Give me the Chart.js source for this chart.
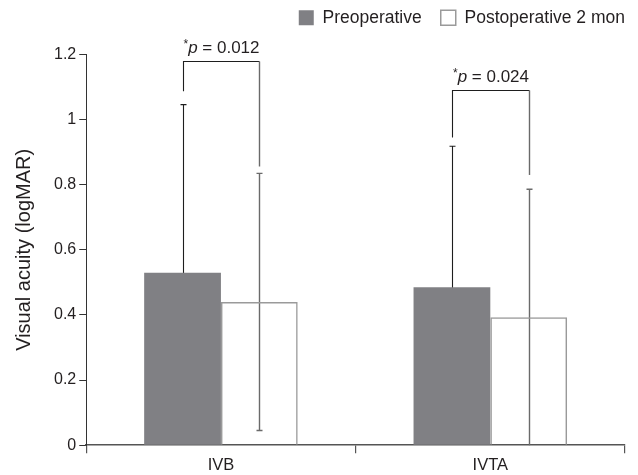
<!DOCTYPE html>
<html>
<head>
<meta charset="utf-8">
<script src="https://cdn.jsdelivr.net/npm/chart.js@4"></script>
<style>
  html, body { margin: 0; padding: 0; background: #fff; }
  #wrap { width: 638px; height: 475px; }
</style>
</head>
<body>
<div id="wrap"><canvas id="c" width="638" height="475"></canvas></div>
<script>
// ---- data ----
const categories = ['IVB', 'IVTA'];
const seriesNames = ['Preoperative', 'Postoperative 2 mon'];
const preopMean = [0.53, 0.485];
const postopMean = [0.44, 0.393];
const preopSD = [0.516, 0.433];
const postopSD = [0.395, 0.393];
// significance brackets (values on y scale)
const bracketTop = [1.18, 1.09];
const bracketLeftEnd = [1.087, 0.945];
const bracketRightEnd = [0.856, 0.83];
const pValues = ['0.012', '0.024'];
const yTicks = [0, 0.2, 0.4, 0.6, 0.8, 1, 1.2];

const FONT = '"Liberation Sans", Arial, Helvetica, sans-serif';
const TEXT = '#231f20';

const legendShift = {
  id: 'legendShift',
  afterLayout(chart) {
    const l = chart.legend;
    if (!l) return;
    l.left += 19; l.right += 19;
    l.top -= 18; l.bottom -= 18;
  }
};

const errorBars = {
  id: 'errorBars',
  beforeDatasetsDraw(chart) {
    const ctx = chart.ctx;
    const y = chart.scales.y;
    const sets = [[preopMean, preopSD, '#1e1e1e', 1.1], [postopMean, postopSD, '#6a6a6a', 1.4]];
    sets.forEach(([means, sds, color, lw], di) => {
      const meta = chart.getDatasetMeta(di);
      meta.data.forEach((bar, i) => {
        const x = Math.round(bar.x) + 0.5;
        const hi = y.getPixelForValue(means[i] + sds[i]);
        const loV = Math.max(0, means[i] - sds[i]);
        const lo = y.getPixelForValue(loV);
        ctx.save();
        ctx.strokeStyle = color;
        ctx.lineWidth = lw;
        ctx.beginPath();
        ctx.moveTo(x, lo); ctx.lineTo(x, hi);
        ctx.moveTo(x - 3, hi); ctx.lineTo(x + 3, hi);
        if (loV > 0) { ctx.moveTo(x - 3, lo); ctx.lineTo(x + 3, lo); }
        ctx.stroke();
        ctx.restore();
      });
    });
  },
  afterDraw(chart) {
    const ctx = chart.ctx;
    const y = chart.scales.y;
    const m0 = chart.getDatasetMeta(0), m1 = chart.getDatasetMeta(1);
    categories.forEach((c, i) => {
      const xl = Math.round(m0.data[i].x) + 0.5;
      const xr = Math.round(m1.data[i].x) + 0.5;
      const yt = Math.round(y.getPixelForValue(bracketTop[i])) + 0.5;
      const yl = y.getPixelForValue(bracketLeftEnd[i]);
      const yr = y.getPixelForValue(bracketRightEnd[i]);
      ctx.save();
      ctx.lineWidth = 1.1;
      ctx.strokeStyle = '#1e1e1e';
      ctx.beginPath();
      ctx.moveTo(xl, yl); ctx.lineTo(xl, yt); ctx.lineTo(xr, yt);
      ctx.stroke();
      ctx.strokeStyle = '#6a6a6a';
      ctx.lineWidth = 1.4;
      ctx.beginPath();
      ctx.moveTo(xr, yt); ctx.lineTo(xr, yr);
      ctx.stroke();
      // label  *p = 0.0xx
      const size = 17;
      const parts = [
        { t: '*', f: `${Math.round(size * 0.7)}px ${FONT}`, dy: -5 },
        { t: 'p', f: `italic ${size}px ${FONT}`, dy: 0 },
        { t: ' = ' + pValues[i], f: `${size}px ${FONT}`, dy: 0 }
      ];
      let total = 0;
      parts.forEach(p => { ctx.font = p.f; p.w = ctx.measureText(p.t).width; total += p.w; });
      let x = (xl + xr) / 2 - total / 2;
      const base = yt - 9;
      ctx.fillStyle = TEXT;
      ctx.textBaseline = 'alphabetic';
      ctx.textAlign = 'left';
      parts.forEach(p => { ctx.font = p.f; ctx.fillText(p.t, x, base + p.dy); x += p.w; });
      ctx.restore();
    });
  }
};

new Chart(document.getElementById('c'), {
  type: 'bar',
  data: {
    labels: categories,
    datasets: [
      {
        label: seriesNames[0],
        data: preopMean,
        backgroundColor: '#808084',
        borderColor: '#808084',
        borderWidth: 0,
        categoryPercentage: 0.57,
        barPercentage: 1.0
      },
      {
        label: seriesNames[1],
        data: postopMean,
        backgroundColor: 'rgba(255,255,255,0)',
        borderColor: '#9a9a9a',
        borderWidth: 1.5,
        categoryPercentage: 0.57,
        barPercentage: 1.0
      }
    ]
  },
  options: {
    responsive: false,
    animation: false,
    devicePixelRatio: 1,
    layout: { padding: { top: 8, right: 13, left: 12, bottom: -2 } },
    plugins: {
      legend: {
        position: 'top',
        align: 'end',
        labels: {
          boxWidth: 15,
          boxHeight: 15,
          padding: 19,
          color: TEXT,
          font: { family: FONT, size: 17.5 }
        }
      },
      tooltip: { enabled: false }
    },
    scales: {
      x: {
        grid: { display: true, drawOnChartArea: false, offset: true, tickLength: 8, color: '#555', lineWidth: 1.2 },
        border: { display: true, color: '#555', width: 1.5 },
        ticks: { color: TEXT, font: { family: FONT, size: 16.5 }, padding: 2 }
      },
      y: {
        min: 0,
        max: 1.2,
        afterBuildTicks(axis) { axis.ticks = yTicks.map(v => ({ value: v })); },
        grid: { display: true, drawOnChartArea: false, tickLength: 7, color: '#333', lineWidth: 1 },
        border: { display: true, color: '#333', width: 1 },
        ticks: { color: TEXT, font: { family: FONT, size: 16 }, padding: 3, callback: v => String(v) },
        title: {
          display: true,
          text: 'Visual acuity (logMAR)',
          color: TEXT,
          font: { family: FONT, size: 20 },
          padding: { top: 0, bottom: 15 }
        }
      }
    }
  },
  plugins: [errorBars, legendShift]
});
</script>
</body>
</html>
